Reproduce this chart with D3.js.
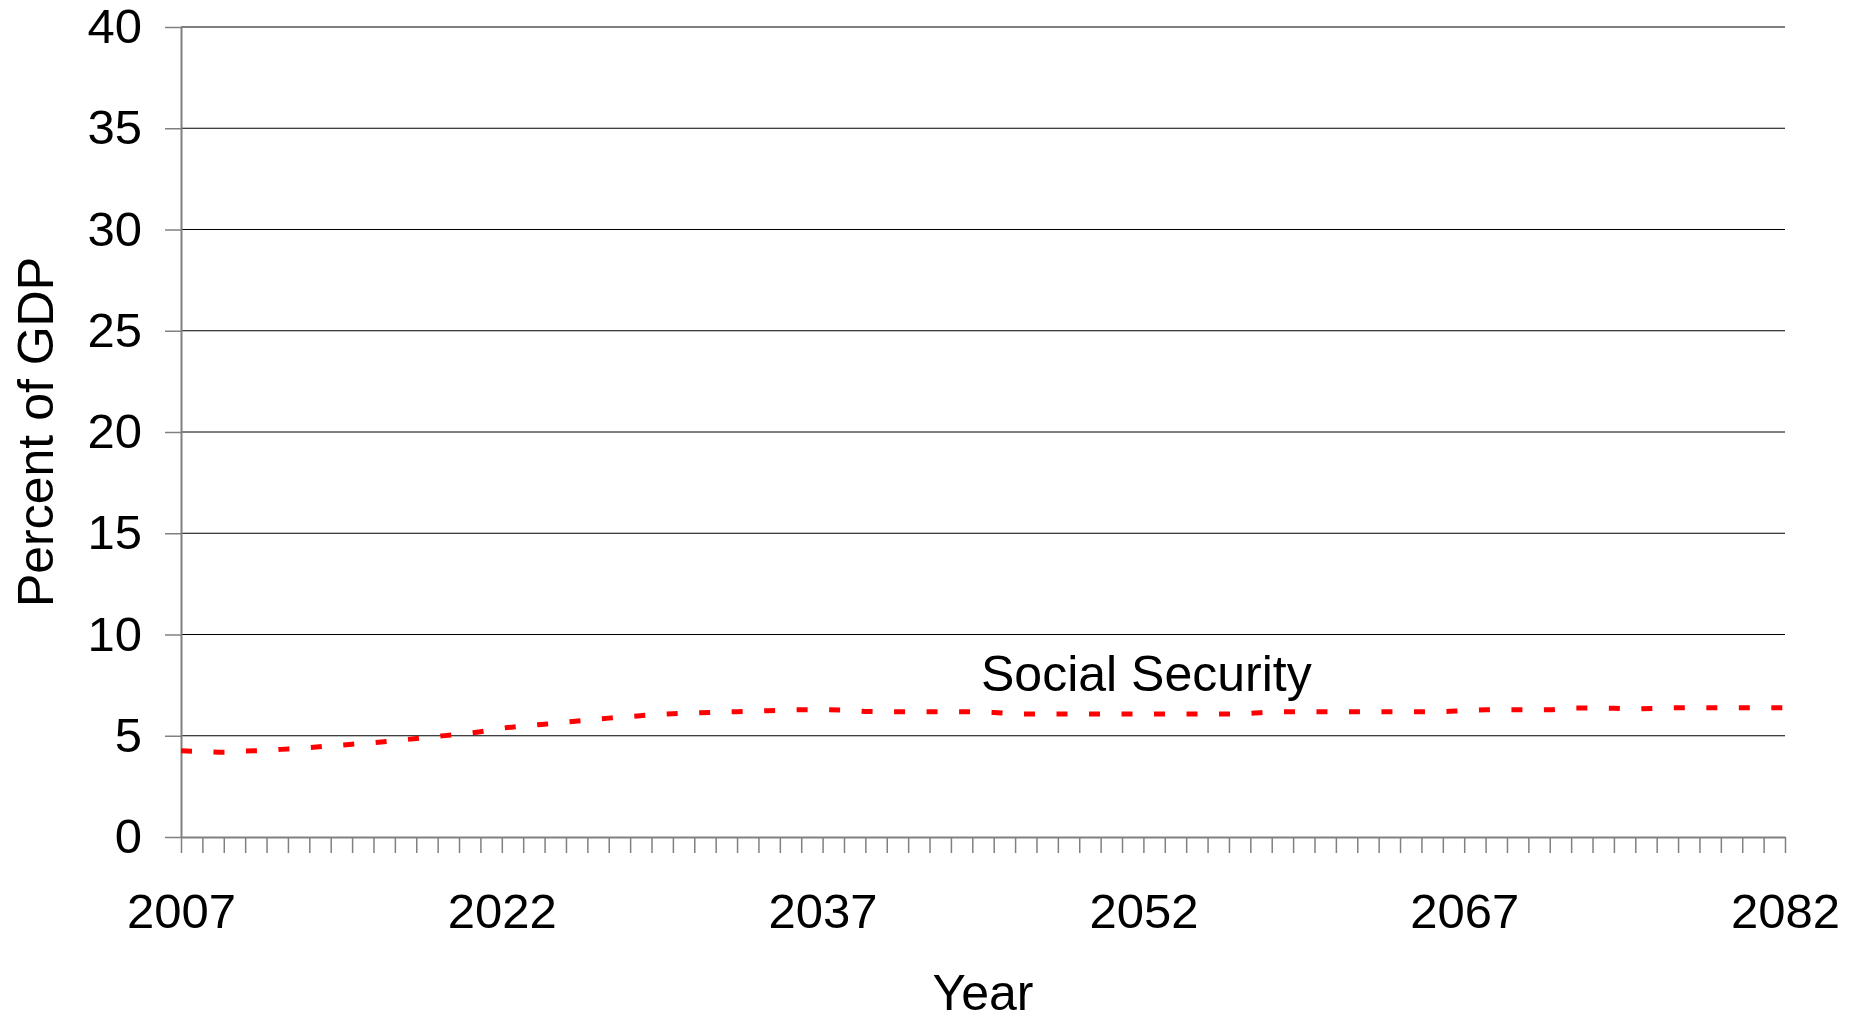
<!doctype html>
<html>
<head>
<meta charset="UTF-8">
<script src="https://d3js.org/d3.v7.min.js"></script>
<style>
body { margin: 0; background: #fff; }
text { font-family: "Liberation Sans", Arial, sans-serif; fill: #000; }
.axis path, .axis line { stroke: #808080; }
</style>
</head>
<body>
<script>
// years on the x axis, one value per year
var years = d3.range(2007, 2083);
var xTickLabels = [2007, 2022, 2037, 2052, 2067, 2082];
var yTicks = [0, 5, 10, 15, 20, 25, 30, 35, 40];

// Social Security outlays, percent of GDP
var socialSecurity = [
  4.26, 4.22, 4.19, 4.24, 4.28, 4.35, 4.42, 4.50, 4.58, 4.66,
  4.76, 4.86, 4.97, 5.08, 5.20, 5.37, 5.48, 5.57, 5.67, 5.77,
  5.87, 5.95, 6.03, 6.09, 6.13, 6.16, 6.19, 6.22, 6.26, 6.28,
  6.28, 6.27, 6.20, 6.19, 6.19, 6.19, 6.19, 6.19, 6.15, 6.08,
  6.07, 6.07, 6.07, 6.07, 6.07, 6.07, 6.07, 6.07, 6.07, 6.07,
  6.11, 6.17, 6.19, 6.19, 6.19, 6.19, 6.19, 6.19, 6.19, 6.19,
  6.24, 6.28, 6.28, 6.28, 6.28, 6.37, 6.37, 6.36, 6.33, 6.35,
  6.38, 6.38, 6.38, 6.38, 6.38, 6.38
];

var w = 1866, h = 1018;
var plotLeft = 181, plotRight = 1785, plotTop = 27, plotBottom = 837;

var svg = d3.select("body").append("svg")
    .attr("width", w)
    .attr("height", h);

var x = d3.scaleLinear().domain([2007, 2082]).range([plotLeft, plotRight]);
var y = d3.scaleLinear().domain([0, 40]).range([plotBottom, plotTop]);

// horizontal gridlines
svg.append("g").selectAll("line")
    .data(yTicks.filter(function(d) { return d > 0; }))
    .enter().append("line")
    .attr("x1", plotLeft).attr("x2", plotRight)
    .attr("y1", function(d) { return y(d); })
    .attr("y2", function(d) { return y(d); })
    .attr("stroke", "#000")
    .attr("stroke-width", 1);

// y axis
var yAxis = svg.append("g")
    .attr("class", "axis")
    .attr("transform", "translate(" + plotLeft + ",0)")
    .call(d3.axisLeft(y).tickValues(yTicks).tickSizeInner(16).tickSizeOuter(0).tickPadding(23));
yAxis.select(".domain").attr("stroke-width", 2);
yAxis.selectAll("line").attr("stroke-width", 1.5);
yAxis.selectAll("text").style("font-size", "49px");

// x axis, a tick every year, labels every 15 years
var xAxis = svg.append("g")
    .attr("class", "axis")
    .attr("transform", "translate(0," + plotBottom + ")")
    .call(d3.axisBottom(x).tickValues(years).tickSizeInner(16).tickSizeOuter(0).tickPadding(40)
        .tickFormat(function(d) { return xTickLabels.indexOf(d) >= 0 ? d : ""; }));
xAxis.select(".domain").attr("stroke-width", 2);
xAxis.selectAll("line").attr("stroke-width", 1.5);
xAxis.selectAll("text").style("font-size", "49px");

// the series
var line = d3.line()
    .x(function(d, i) { return x(years[i]); })
    .y(function(d) { return y(d); })
    .curve(d3.curveMonotoneX);

svg.append("path")
    .datum(socialSecurity)
    .attr("d", line)
    .attr("fill", "none")
    .attr("stroke", "#ff0000")
    .attr("stroke-width", 5)
    .attr("stroke-dasharray", "11,21.5");

svg.append("text")
    .attr("x", 981)
    .attr("y", 691)
    .style("font-size", "50px")
    .text("Social Security");

// axis titles
svg.append("text")
    .attr("x", (plotLeft + plotRight) / 2)
    .attr("y", 1010)
    .attr("text-anchor", "middle")
    .style("font-size", "50px")
    .text("Year");

svg.append("text")
    .attr("transform", "translate(53," + (plotTop + plotBottom) / 2 + ") rotate(-90)")
    .attr("text-anchor", "middle")
    .style("font-size", "50px")
    .text("Percent of GDP");
</script>
</body>
</html>
